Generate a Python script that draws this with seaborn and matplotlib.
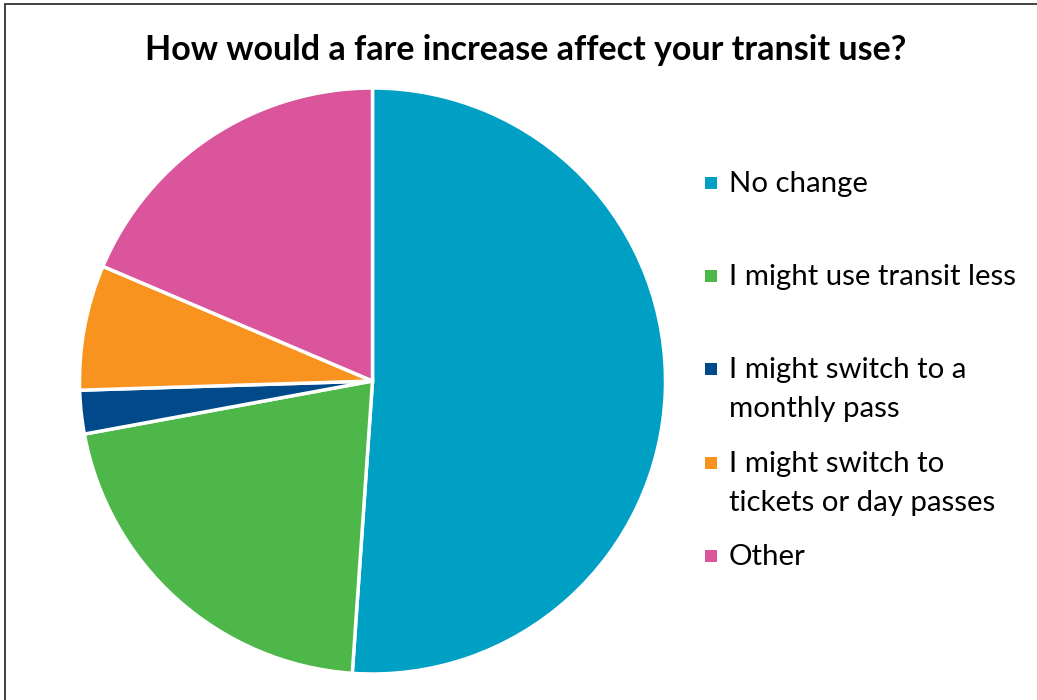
import matplotlib
matplotlib.use("Agg")
import matplotlib.pyplot as plt
from matplotlib.patches import Rectangle
import seaborn as sns

categories = ["No change", "I might use transit less", "I might switch to a\nmonthly pass",
              "I might switch to\ntickets or day passes", "Other"]
values = [51.1, 21.0, 2.4, 6.9, 18.6]
colors = ["#00A0C4", "#4DB749", "#004A8B", "#F7931E", "#DA559C"]
title = "How would a fare increase affect your transit use?"

sns.set_theme(style="white")
plt.rcParams["font.family"] = ["Lato", "DejaVu Sans"]

W, H = 1037, 700
fig = plt.figure(figsize=(W / 100, H / 100), dpi=100)
fig.patch.set_facecolor("white")

def fx(px):
    return px / W

def fy(py):
    return 1 - py / H

# pie axes: center and radius in px
cx, cy, r = 372.5, 381, 293
ax = fig.add_axes([fx(cx - r), fy(cy + r), 2 * r / W, 2 * r / H])
ax.pie(values, colors=colors, startangle=90, counterclock=False,
       wedgeprops=dict(edgecolor="white", linewidth=2.5))
ax.set_xlim(-1, 1)
ax.set_ylim(-1, 1)
ax.set_aspect("auto")
ax.axis("off")

fig.text(fx(526), fy(60), title, ha="center", va="baseline",
         fontsize=24.5, fontweight="bold", color="black")

# legend (Excel style: evenly spaced entries, marker on first line)
first_baselines = [192, 285, 378, 472, 565]
line_gap = 38.5
fs = 21.2
for lab, col, yb in zip(categories, colors, first_baselines):
    fig.add_artist(Rectangle((fx(705), fy(189 + (yb - 192))), 12 / W, 12 / H,
                             transform=fig.transFigure, facecolor=col, edgecolor="none"))
    for i, line in enumerate(lab.split("\n")):
        fig.text(fx(729), fy(yb + i * line_gap), line, ha="left", va="baseline",
                 fontsize=fs, color="black")

# outer frame
fig.add_artist(Rectangle((fx(5), fy(710)), fx(1040), fy(4) - fy(710),
                         transform=fig.transFigure, facecolor="none",
                         edgecolor="#333333", linewidth=1.3, clip_on=False))

fig.savefig("out.png", dpi=100, facecolor="white")
